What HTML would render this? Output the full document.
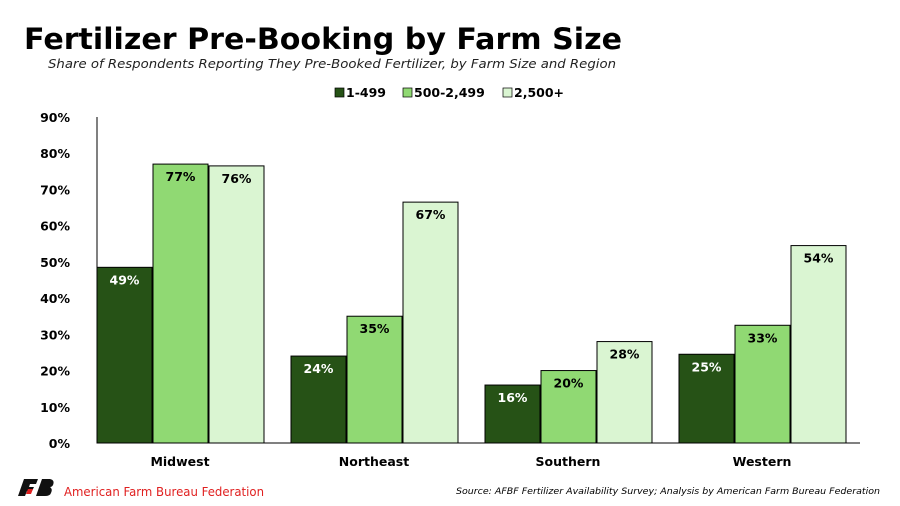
<!DOCTYPE html>
<html><head><meta charset="utf-8"><style>
body{margin:0;background:#fff;font-family:"DejaVu Sans","Liberation Sans",sans-serif}
#wrap{position:relative;width:900px;height:506px;overflow:hidden}
svg text{font-family:"DejaVu Sans","Liberation Sans",sans-serif}
</style></head><body>
<div id="wrap">
<svg id="c" width="900" height="506"></svg>
</div>
<script>
const categories=["Midwest","Northeast","Southern","Western"];
const seriesNames=["1-499","500-2,499","2,500+"];
const s1=[48.5,24,16,24.5];
const s2=[77,35,20,32.5];
const s3=[76.5,66.5,28,54.5];
const labels1=["49%","24%","16%","25%"];
const labels2=["77%","35%","20%","33%"];
const labels3=["76%","67%","28%","54%"];
const yTicks=[0,10,20,30,40,50,60,70,80,90];
const colors=["#265216","#90d973","#daf5d2"];
const NS="http://www.w3.org/2000/svg";
const svg=document.getElementById('c');
function mk(t,a,txt){const e=document.createElementNS(NS,t);for(const k in a)e.setAttribute(k,a[k]);if(txt!==undefined)e.textContent=txt;svg.appendChild(e);return e;}
const x0=97,x1=860,yb=443,yt=117;
const y=v=>yb-(yb-yt)*v/90;
const gw=194,bw=55;
const gx=i=>x0+i*gw;
let e;
e=mk('text',{x:24,y:49,'font-size':29,'font-weight':'bold',fill:'#000',textLength:598,lengthAdjust:'spacingAndGlyphs'},"Fertilizer Pre-Booking by Farm Size");

e=mk('text',{x:48,y:68,'font-size':12,'font-style':'italic',fill:'#222',textLength:568,lengthAdjust:'spacingAndGlyphs'},"Share of Respondents Reporting They Pre-Booked Fertilizer, by Farm Size and Region");

const lx=[335,403,503];
seriesNames.forEach((n,i)=>{
 e=mk('rect',{x:lx[i],y:88,width:9,height:9,fill:colors[i],stroke:'#000','stroke-width':0.7});
 
 e=mk('text',{x:lx[i]+11,y:97,'font-size':12.5,'font-weight':'bold'},n);
 
});
yTicks.forEach(t=>{
 e=mk('text',{x:70,y:y(t)+5,'font-size':12.5,'font-weight':'bold','text-anchor':'end'},t+"%");
 
});
e=mk('line',{x1:x0,y1:yt,x2:x0,y2:yb,stroke:'#000','stroke-width':1});

const series=[s1,s2,s3],labs=[labels1,labels2,labels3];
categories.forEach((c,i)=>{
 series.forEach((s,j)=>{
  const bx=gx(i)+j*(bw+1);
  e=mk('rect',{x:bx,y:y(s[i]),width:bw,height:yb-y(s[i]),fill:colors[j],stroke:'#000','stroke-width':1});
  
  e=mk('text',{x:bx+bw/2,y:y(s[i])+17,'font-size':12.5,'font-weight':'bold','text-anchor':'middle',fill:j==0?'#fff':'#000'},labs[j][i]);
  
 });
 e=mk('text',{x:gx(i)+83,y:466,'font-size':12.5,'font-weight':'bold','text-anchor':'middle'},c);
 
});
e=mk('line',{x1:x0,y1:yb,x2:x1,y2:yb,stroke:'#000','stroke-width':1});

e=mk('path',{d:'M18 496 L24 479 L38 479 L36 484 L30 484 L29 487 L34 487 L32 491 L27 491 L25 496 Z M36 496 L42 479 L50 479 Q55 480 53 485 Q52 487 50 487 Q53 489 51 493 Q50 496 45 496 Z',fill:'#111'});

e=mk('path',{d:'M26 494 L28 489 L33 489 L31 494 Z',fill:'#e02020'});

e=mk('text',{x:64,y:496,'font-size':12,fill:'#e02020',textLength:200,lengthAdjust:'spacingAndGlyphs'},"American Farm Bureau Federation");

e=mk('text',{x:456,y:494,'font-size':9,'font-style':'italic',textLength:424,lengthAdjust:'spacingAndGlyphs'},"Source: AFBF Fertilizer Availability Survey; Analysis by American Farm Bureau Federation");

</script>
</body></html>
